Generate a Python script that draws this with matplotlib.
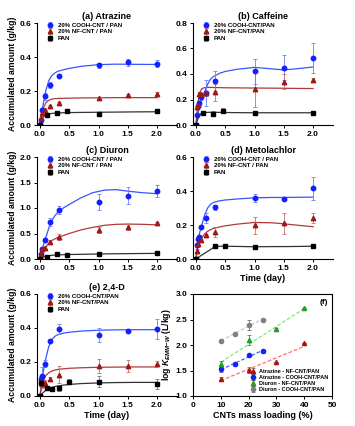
import numpy as np
import matplotlib
matplotlib.use("Agg")
import matplotlib.pyplot as plt

plt.rcParams['font.family'] = ['Liberation Sans', 'DejaVu Sans']
plt.rcParams['font.weight'] = 'bold'
plt.rcParams['axes.labelweight'] = 'bold'
plt.rcParams['mathtext.fontset'] = 'custom'
plt.rcParams['mathtext.it'] = 'Liberation Sans:bold:italic'
plt.rcParams['mathtext.rm'] = 'Liberation Sans:bold'

# ---------------- data ----------------
# (a) Atrazine
a_cooh_t = [0, 0.02, 0.04, 0.083, 0.167, 0.333, 1.0, 1.5, 2.0]
a_cooh_v = [0, 0.03, 0.09, 0.17, 0.235, 0.29, 0.352, 0.37, 0.36]
a_cooh_e = [0, 0.01, 0.01, 0.02, 0.02, 0.01, 0.015, 0.02, 0.02]
a_nf_t = [0, 0.02, 0.04, 0.083, 0.167, 0.333, 1.0, 1.5, 2.0]
a_nf_v = [0, 0.04, 0.07, 0.09, 0.11, 0.13, 0.16, 0.175, 0.185]
a_nf_e = [0, 0.005, 0.005, 0.005, 0.005, 0.005, 0.005, 0.005, 0.008]
a_pan_t = [0, 0.125, 0.29, 0.46, 1.0, 2.0]
a_pan_v = [0, 0.06, 0.07, 0.085, 0.062, 0.085]
a_pan_e = [0, 0.003, 0.003, 0.003, 0.003, 0.003]
a_curve_t = [0, 0.03, 0.06, 0.1, 0.15, 0.2, 0.25, 0.3, 0.4, 0.5, 0.7, 1.0, 1.3, 1.6, 2.0]
a_cooh_c = [0, 0.07, 0.13, 0.2, 0.26, 0.29, 0.305, 0.315, 0.325, 0.333, 0.345, 0.355, 0.358, 0.357, 0.356]
a_nf_c = [0, 0.06, 0.1, 0.13, 0.145, 0.152, 0.155, 0.156, 0.157, 0.158, 0.159, 0.16, 0.161, 0.161, 0.161]
a_pan_c = [0, 0.03, 0.05, 0.06, 0.065, 0.068, 0.07, 0.071, 0.072, 0.073, 0.074, 0.075, 0.076, 0.077, 0.078]

# (b) Caffeine
b_cooh_t = [0, 0.02, 0.04, 0.06, 0.083, 0.167, 0.333, 1.0, 1.5, 2.0]
b_cooh_v = [0, 0.08, 0.15, 0.17, 0.22, 0.25, 0.345, 0.42, 0.45, 0.525]
b_cooh_e = [0, 0.01, 0.01, 0.01, 0.02, 0.1, 0.08, 0.1, 0.1, 0.12]
b_nf_t = [0, 0.02, 0.04, 0.06, 0.083, 0.167, 0.333, 1.0, 1.5, 2.0]
b_nf_v = [0, 0.14, 0.16, 0.245, 0.24, 0.25, 0.255, 0.285, 0.34, 0.355]
b_nf_e = [0, 0.01, 0.01, 0.01, 0.01, 0.02, 0.07, 0.14, 0.06, 0.01]
b_pan_t = [0, 0.125, 0.29, 0.46, 1.0, 2.0]
b_pan_v = [0, 0.095, 0.09, 0.112, 0.095, 0.095]
b_pan_e = [0, 0.005, 0.02, 0.02, 0.01, 0.005]
b_curve_t = [0, 0.03, 0.06, 0.1, 0.15, 0.2, 0.25, 0.3, 0.4, 0.5, 0.7, 1.0, 1.3, 1.5, 1.7, 2.0]
b_cooh_c = [0, 0.08, 0.15, 0.21, 0.26, 0.32, 0.36, 0.38, 0.405, 0.42, 0.437, 0.452, 0.44, 0.432, 0.44, 0.455]
b_nf_c = [0, 0.16, 0.25, 0.285, 0.293, 0.295, 0.295, 0.294, 0.293, 0.292, 0.291, 0.29, 0.289, 0.288, 0.287, 0.286]
b_pan_c = [0, 0.045, 0.075, 0.095, 0.098, 0.099, 0.1, 0.1, 0.099, 0.098, 0.097, 0.096, 0.096, 0.096, 0.096, 0.096]

# (c) Diuron
c_cooh_t = [0, 0.02, 0.04, 0.083, 0.167, 0.333, 1.0, 1.5, 2.0]
c_cooh_v = [0, 0.1, 0.2, 0.37, 0.73, 0.96, 1.12, 1.24, 1.34]
c_cooh_e = [0, 0.02, 0.03, 0.04, 0.08, 0.07, 0.15, 0.17, 0.12]
c_nf_t = [0, 0.02, 0.04, 0.083, 0.167, 0.333, 1.0, 1.5, 2.0]
c_nf_v = [0, 0.1, 0.2, 0.22, 0.34, 0.43, 0.57, 0.62, 0.7]
c_nf_e = [0, 0.02, 0.02, 0.03, 0.04, 0.06, 0.06, 0.06, 0.03]
c_pan_t = [0, 0.125, 0.29, 0.46, 1.0, 2.0]
c_pan_v = [0, 0.04, 0.1, 0.08, 0.1, 0.11]
c_pan_e = [0, 0.01, 0.01, 0.01, 0.01, 0.01]
c_curve_t = [0, 0.03, 0.06, 0.1, 0.15, 0.2, 0.25, 0.3, 0.4, 0.5, 0.7, 0.9, 1.1, 1.3, 1.5, 1.75, 2.0]
c_cooh_c = [0, 0.13, 0.27, 0.42, 0.6, 0.74, 0.84, 0.91, 1.0, 1.07, 1.2, 1.3, 1.35, 1.36, 1.33, 1.3, 1.28]
c_nf_c = [0, 0.09, 0.16, 0.24, 0.31, 0.36, 0.39, 0.42, 0.46, 0.5, 0.57, 0.62, 0.66, 0.68, 0.685, 0.68, 0.67]
c_pan_c = [0, 0.02, 0.04, 0.055, 0.065, 0.072, 0.077, 0.08, 0.085, 0.088, 0.092, 0.096, 0.1, 0.103, 0.105, 0.108, 0.11]

# (d) Metolachlor
d_cooh_t = [0, 0.02, 0.04, 0.06, 0.083, 0.167, 0.333, 1.0, 1.5, 2.0]
d_cooh_v = [0, 0.08, 0.12, 0.13, 0.19, 0.24, 0.305, 0.36, 0.355, 0.415]
d_cooh_e = [0, 0.01, 0.01, 0.01, 0.01, 0.03, 0.015, 0.025, 0.01, 0.07]
d_nf_t = [0, 0.02, 0.04, 0.083, 0.167, 0.333, 1.0, 1.5, 2.0]
d_nf_v = [0, 0.05, 0.09, 0.11, 0.14, 0.16, 0.2, 0.21, 0.24]
d_nf_e = [0, 0.01, 0.01, 0.01, 0.01, 0.03, 0.05, 0.06, 0.03]
d_pan_t = [0, 0.333, 0.5, 1.0, 2.0]
d_pan_v = [0, 0.075, 0.075, 0.072, 0.075]
d_pan_e = [0, 0.005, 0.003, 0.003, 0.003]
d_curve_t = [0, 0.03, 0.06, 0.1, 0.15, 0.2, 0.25, 0.3, 0.4, 0.5, 0.7, 1.0, 1.3, 1.5, 1.75, 2.0]
d_cooh_c = [0, 0.09, 0.15, 0.2, 0.26, 0.3, 0.322, 0.333, 0.342, 0.347, 0.353, 0.36, 0.362, 0.362, 0.363, 0.364]
d_nf_c = [0, 0.07, 0.1, 0.125, 0.148, 0.163, 0.173, 0.18, 0.188, 0.195, 0.205, 0.215, 0.213, 0.207, 0.198, 0.19]
d_pan_c = [0, 0.007, 0.014, 0.023, 0.034, 0.045, 0.056, 0.068, 0.075, 0.075, 0.074, 0.072, 0.073, 0.073, 0.074, 0.075]

# (e) 2,4-D
e_cooh_t = [0, 0.02, 0.04, 0.083, 0.167, 0.333, 1.0, 1.5, 2.0]
e_cooh_v = [0, 0.1, 0.12, 0.19, 0.325, 0.395, 0.36, 0.385, 0.395]
e_cooh_e = [0, 0.02, 0.05, 0.02, 0.01, 0.03, 0.04, 0.01, 0.06]
e_nf_t = [0, 0.02, 0.04, 0.083, 0.167, 0.333, 1.0, 1.5, 2.0]
e_nf_v = [0, 0.09, 0.07, 0.075, 0.1, 0.125, 0.175, 0.175, 0.19]
e_nf_e = [0, 0.02, 0.02, 0.02, 0.01, 0.05, 0.04, 0.035, 0.015]
e_pan_t = [0, 0.02, 0.125, 0.21, 0.333, 0.5, 1.0, 2.0]
e_pan_v = [0, 0.075, 0.05, 0.04, 0.045, 0.085, 0.085, 0.07]
e_pan_e = [0, 0.02, 0.01, 0.005, 0.015, 0.015, 0.03, 0.03]
e_curve_t = [0, 0.03, 0.06, 0.1, 0.15, 0.2, 0.25, 0.3, 0.4, 0.5, 0.7, 1.0, 1.3, 1.6, 2.0]
e_cooh_c = [0, 0.08, 0.15, 0.22, 0.29, 0.33, 0.35, 0.36, 0.37, 0.375, 0.382, 0.387, 0.389, 0.39, 0.39]
e_nf_c = [0, 0.05, 0.09, 0.12, 0.137, 0.146, 0.152, 0.156, 0.16, 0.163, 0.166, 0.169, 0.17, 0.171, 0.171]
e_pan_c = [0, 0.012, 0.022, 0.033, 0.043, 0.05, 0.055, 0.059, 0.064, 0.068, 0.073, 0.077, 0.079, 0.08, 0.08]

# (f) log K vs CNTs loading
f_atr_nf_x = [10, 20, 30, 40]
f_atr_nf_y = [1.34, 1.51, 1.67, 2.03]
f_atr_nf_e = [0.03, 0.06, 0.0, 0.0]
f_atr_cooh_x = [10, 15, 20, 25]
f_atr_cooh_y = [1.52, 1.62, 1.80, 1.88]
f_atr_cooh_e = [0.05, 0.03, 0.02, 0.03]
f_diu_nf_x = [10, 20, 30, 40]
f_diu_nf_y = [1.62, 2.10, 2.31, 2.72]
f_diu_nf_e = [0.07, 0.1, 0.02, 0.0]
f_diu_cooh_x = [10, 15, 20, 25]
f_diu_cooh_y = [2.08, 2.22, 2.40, 2.49]
f_diu_cooh_e = [0.02, 0.02, 0.1, 0.02]

# ---------------- style ----------------
BLUE = '#1020ff'
BLUE_L = '#3a55ff'
RED = '#a01818'
RED_L = '#b03a3a'
BLACK = '#000000'

fig = plt.figure(figsize=(3.55, 4.26), dpi=100)
W, H = 355.0, 426.0


def ax_at(left, top, right, bottom):
    return fig.add_axes([left / W, 1 - bottom / H, (right - left) / W, (bottom - top) / H])


def style(ax, full=False):
    for s in ['top', 'right']:
        ax.spines[s].set_visible(full)
    for s in ax.spines.values():
        s.set_linewidth(0.8)
    ax.tick_params(direction='out', length=2.5, width=0.7, labelsize=6, pad=1.5)
    for lab in ax.get_xticklabels() + ax.get_yticklabels():
        lab.set_fontweight('bold')


def kinetics(ax, title, ymax, ystep, labels, cooh, nf, pan, curve_t, curves, xlabel=False, ylabel=False):
    ct, cv, ce = cooh
    nt, nv, ne = nf
    pt, pv, pe = pan
    ax.plot(curve_t, curves[0], color=BLUE_L, lw=0.9, zorder=2)
    ax.plot(curve_t, curves[1], color=RED_L, lw=0.9, zorder=2)
    ax.plot(curve_t, curves[2], color='#333333', lw=0.9, zorder=2)
    ax.errorbar(ct, cv, yerr=ce, fmt='o', color=BLUE, ms=3.2, elinewidth=0.6, capsize=1.5,
                capthick=0.6, ecolor='#6f7fff', label=labels[0], zorder=3)
    ax.errorbar(nt, nv, yerr=ne, fmt='^', color=RED, ms=3.2, elinewidth=0.6, capsize=1.5,
                capthick=0.6, ecolor='#c07070', label=labels[1], zorder=3)
    ax.errorbar(pt, pv, yerr=pe, fmt='s', color=BLACK, ms=3.0, elinewidth=0.6, capsize=1.5,
                capthick=0.6, ecolor='#777777', label=labels[2], zorder=3)
    ax.set_xlim(-0.05, 2.34)
    ax.set_ylim(0, ymax)
    ax.set_xticks([0, 0.5, 1.0, 1.5, 2.0])
    ax.set_xticklabels(['0.0', '0.5', '1.0', '1.5', '2.0'])
    yt = np.arange(0, ymax + 1e-9, ystep)
    ax.set_yticks(yt)
    ax.set_yticklabels(['%.1f' % v for v in yt])
    ax.set_title(title, fontsize=6.5, fontweight='bold', pad=3)
    if xlabel:
        ax.set_xlabel('Time (day)', fontsize=6.5, fontweight='bold', labelpad=2)
    if ylabel:
        ax.set_ylabel('Accumulated amount (g/kg)', fontsize=6.2, fontweight='bold', labelpad=2)
    leg = ax.legend(loc='upper left', frameon=False, fontsize=4.4, handlelength=1.0,
                    handletextpad=0.8, borderaxespad=0.1, labelspacing=0.15,
                    bbox_to_anchor=(0.05, 1.03))
    for t in leg.get_texts():
        t.set_fontweight('bold')
    style(ax)


ax_a = ax_at(37, 23, 177, 125)
kinetics(ax_a, '(a) Atrazine', 0.6, 0.2,
         ['20% COOH-CNT / PAN', '20% NF-CNT / PAN', 'PAN'],
         (a_cooh_t, a_cooh_v, a_cooh_e), (a_nf_t, a_nf_v, a_nf_e), (a_pan_t, a_pan_v, a_pan_e),
         a_curve_t, (a_cooh_c, a_nf_c, a_pan_c), ylabel=True)

ax_b = ax_at(193, 23, 333, 125)
kinetics(ax_b, '(b) Caffeine', 0.8, 0.2,
         ['20% COOH-CNT/PAN', '20% NF-CNT/PAN', 'PAN'],
         (b_cooh_t, b_cooh_v, b_cooh_e), (b_nf_t, b_nf_v, b_nf_e), (b_pan_t, b_pan_v, b_pan_e),
         b_curve_t, (b_cooh_c, b_nf_c, b_pan_c))

ax_c = ax_at(37, 157, 177, 259)
kinetics(ax_c, '(c) Diuron', 2.0, 0.5,
         ['20% COOH-CNT / PAN', '20% NF-CNT / PAN', 'PAN'],
         (c_cooh_t, c_cooh_v, c_cooh_e), (c_nf_t, c_nf_v, c_nf_e), (c_pan_t, c_pan_v, c_pan_e),
         c_curve_t, (c_cooh_c, c_nf_c, c_pan_c), ylabel=True)

ax_d = ax_at(193, 157, 333, 259)
kinetics(ax_d, '(d) Metolachlor', 0.6, 0.2,
         ['20% COOH-CNT / PAN', '20% NF-CNT / PAN', 'PAN'],
         (d_cooh_t, d_cooh_v, d_cooh_e), (d_nf_t, d_nf_v, d_nf_e), (d_pan_t, d_pan_v, d_pan_e),
         d_curve_t, (d_cooh_c, d_nf_c, d_pan_c), xlabel=True)

ax_e = ax_at(37, 294, 177, 396)
kinetics(ax_e, '(e) 2,4-D', 0.6, 0.2,
         ['20% COOH-CNT/PAN', '20% NF-CNT/PAN', 'PAN'],
         (e_cooh_t, e_cooh_v, e_cooh_e), (e_nf_t, e_nf_v, e_nf_e), (e_pan_t, e_pan_v, e_pan_e),
         e_curve_t, (e_cooh_c, e_nf_c, e_pan_c), xlabel=True, ylabel=True)

# (f)
ax_f = ax_at(193, 294, 332, 396)
series_f = [
    (f_atr_nf_x, f_atr_nf_y, f_atr_nf_e, '^', '#b01010', '#ff7070', 'Atrazine - NF-CNT/PAN'),
    (f_atr_cooh_x, f_atr_cooh_y, f_atr_cooh_e, 'o', '#1020ff', '#4a60ff', 'Atrazine - COOH-CNT/PAN'),
    (f_diu_nf_x, f_diu_nf_y, f_diu_nf_e, '^', '#20a020', '#80e880', 'Diuron - NF-CNT/PAN'),
    (f_diu_cooh_x, f_diu_cooh_y, f_diu_cooh_e, 'o', '#808080', '#c8c8c8', 'Diuron - COOH-CNT/PAN'),
]
for x, y, e, m, c, lc, lab in series_f:
    p = np.polyfit(x, y, 1)
    xx = np.array([min(x), max(x)])
    ax_f.plot(xx, np.polyval(p, xx), ls=(0, (3, 1.5)), color=lc, lw=0.9, zorder=2)
    ax_f.errorbar(x, y, yerr=e, fmt=m, color=c, ms=3.0, elinewidth=0.5, capsize=1.5,
                  capthick=0.5, ecolor='#555555', label=lab, zorder=3)
ax_f.set_xlim(0, 50)
ax_f.set_ylim(1.0, 3.0)
ax_f.set_xticks([0, 10, 20, 30, 40, 50])
ax_f.set_yticks([1.0, 1.5, 2.0, 2.5, 3.0])
ax_f.set_yticklabels(['1.0', '1.5', '2.0', '2.5', '3.0'])
ax_f.set_xlabel('CNTs mass loading (%)', fontsize=6.5, fontweight='bold', labelpad=2)
ax_f.set_ylabel(r'log $K_{EMM\mathrm{-}W}$ (L/kg)', fontsize=6.2, fontweight='bold', labelpad=2)
ax_f.text(0.97, 0.95, '(f)', transform=ax_f.transAxes, ha='right', va='top',
          fontsize=6, fontweight='bold')
legf = ax_f.legend(loc='lower right', frameon=False, fontsize=4.0, handlelength=1.0,
                   handletextpad=0.6, borderaxespad=0.3, labelspacing=0.2)
for t in legf.get_texts():
    t.set_fontweight('bold')
style(ax_f, full=True)

fig.savefig('out.png', dpi=100)
